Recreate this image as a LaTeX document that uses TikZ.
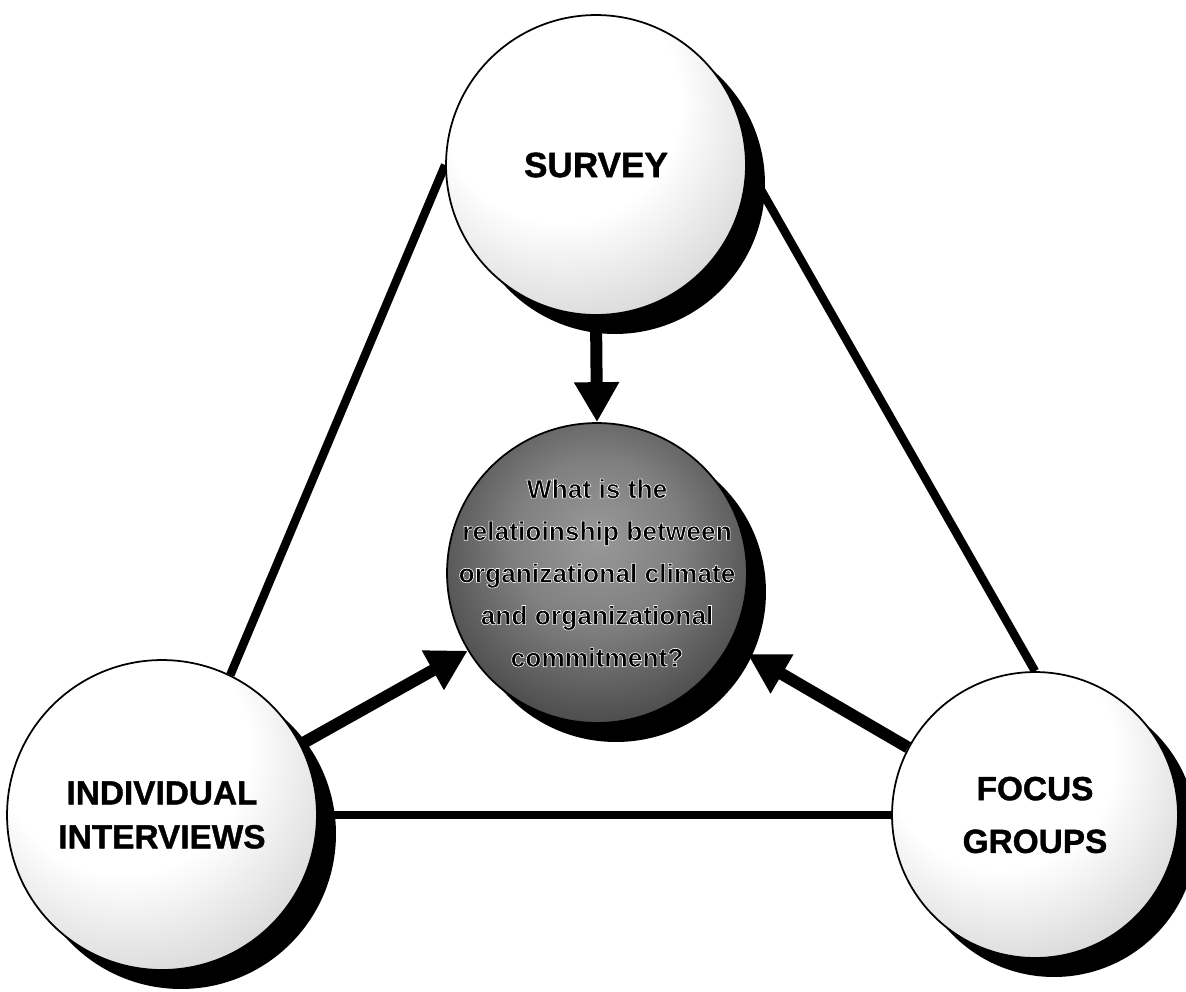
\documentclass[tikz,border=0pt]{standalone}
\usepackage{fontspec}
\setmainfont{Liberation Sans}[BoldFeatures={FakeBold=1.2}]
\newfontfamily\qfont{Liberation Sans Bold}
\usetikzlibrary{arrows.meta,shadows}
\pgfdeclarelayer{background}
\pgfsetlayers{background,main}
\pgfdeclareradialshading{lightball}{\pgfpoint{-8bp}{14bp}}{color(0bp)=(white); color(20bp)=(white); color(42bp)=(black!22); color(52bp)=(black!38); color(80bp)=(black!38)}
\pgfdeclareradialshading{darkball}{\pgfpoint{0bp}{6bp}}{color(0bp)=(black!40); color(14bp)=(black!50); color(38bp)=(black!82); color(80bp)=(black!88)}
% black letters with a white rim
\newcommand{\wrim}[1]{\special{pdf:literal direct 2 Tr 1 j 1 1 1 RG 0.35 w}#1\special{pdf:literal direct 0 Tr 0 0 0 RG}}
\begin{document}
\begin{tikzpicture}[x=0.02cm, y=-0.02cm, line join=round,
    ball/.style={circle, draw, line width=1pt, minimum size=#1, inner sep=0pt, align=center,
      drop shadow={shadow xshift=0.38cm, shadow yshift=-0.38cm, fill=black, opacity=1}},
    link/.style={line width=0.17cm},
    push/.style={line width=0.24cm, -{Triangle[width=0.85cm,length=0.8cm]}}]
    \useasboundingbox (0,0) rectangle (1186,991);
    \node[ball=6cm, shading=lightball, font=\bfseries\fontsize{20}{24}\selectfont] (survey) at (596,165) {SURVEY};
    \node[ball=6cm, inner sep=-0.4cm, shading=darkball, font=\qfont\fontsize{15}{24}\selectfont] (quest) at (597,573)
        {\wrim{What is the}\\ \wrim{relatioinship between}\\ \wrim{organizational climate}\\
         \wrim{and organizational}\\ \wrim{commitment?}};
    \node[ball=6.2cm, shading=lightball, font=\bfseries\fontsize{19}{25}\selectfont] (indiv) at (162,815) {INDIVIDUAL\\ INTERVIEWS};
    \node[ball=5.72cm, shading=lightball, font=\bfseries\fontsize{19}{30}\selectfont] (focus) at (1035,815) {FOCUS\\ GROUPS};
    \begin{pgfonlayer}{background}
        \draw[link] (survey.west) -- (indiv.64);
        \draw[link] (survey.east) -- (focus.north);
        \draw[link] (indiv.east) -- (focus.west);
        % arrows into the question
        \draw[push] (survey.south) -- (quest.north);
        \draw[push] (indiv.27) -- (quest.211);
        \draw[push, shorten >=0.4cm] (focus.152) -- (quest.-28);
    \end{pgfonlayer}
\end{tikzpicture}
\end{document}
